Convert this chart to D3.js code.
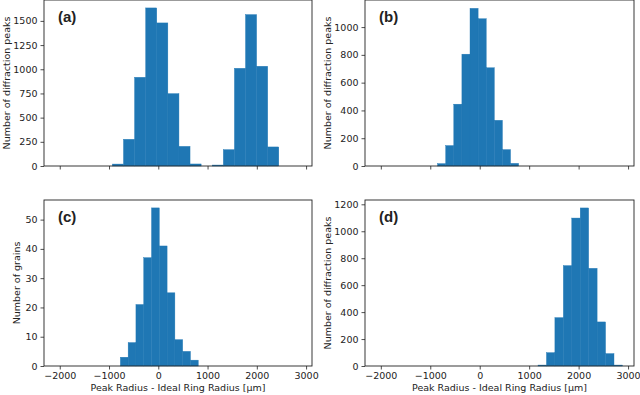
<!DOCTYPE html>
<html>
<head>
<meta charset="utf-8">
<script src="https://cdn.jsdelivr.net/npm/d3@7"></script>
<style>
    body { margin: 0; background: #fff; }
    text { font-family: "DejaVu Sans", sans-serif; fill: #222; }
</style>
</head>
<body>
<svg id="chart" width="640" height="395"></svg>
<script>
// histogram counts; bins are equal width from binStart
const countsA = [20, 276, 917, 1634, 1479, 748, 203, 21, 0, 10, 169, 1010, 1565, 1031, 197];
const countsB = [17, 147, 445, 805, 1135, 1060, 707, 329, 118, 19];
const countsC = [3, 8, 21, 37, 54, 41, 25, 9, 5, 2];
const countsD = [7, 99, 359, 745, 1098, 1173, 725, 327, 92, 7];

const binStart = { a: -932, b: -852, c: -770, d: 1179 };
const binWidth = { a: 225.2, b: 163.9, c: 158.1, d: 170.7 };

const xTicks = [-2000, -1000, 0, 1000, 2000, 3000];
const yTicksA = [0, 250, 500, 750, 1000, 1250, 1500];
const yTicksB = [0, 200, 400, 600, 800, 1000];
const yTicksC = [0, 10, 20, 30, 40, 50];
const yTicksD = [0, 200, 400, 600, 800, 1000, 1200];

const panelLabels = ["(a)", "(b)", "(c)", "(d)"];
const yTitles = ["Number of diffraction peaks", "Number of diffraction peaks",
                 "Number of grains", "Number of diffraction peaks"];
const xTitle = "Peak Radius - Ideal Ring Radius [\u03bcm]";

const xDomain = [-2320, 3120];
const barColor = "#1f77b4";

const svg = d3.select("#chart");

const panels = [
    { key: "a", counts: countsA, yTicks: yTicksA, ymax: 1716, box: [44, 0, 312, 166], titleX: 6, showX: false },
    { key: "b", counts: countsB, yTicks: yTicksB, ymax: 1195, box: [365, 0, 634, 166], titleX: 327, showX: false },
    { key: "c", counts: countsC, yTicks: yTicksC, ymax: 56.7, box: [44, 200, 312, 366], titleX: 16, showX: true },
    { key: "d", counts: countsD, yTicks: yTicksD, ymax: 1232, box: [365, 200, 634, 366], titleX: 327, showX: true },
];

const fmtX = d => d < 0 ? "\u2212" + Math.abs(d) : String(d);

panels.forEach(function (p, i) {
    const [x0, y0, x1, y1] = p.box;
    const X = d3.scaleLinear().domain(xDomain).range([x0, x1]);
    const Y = d3.scaleLinear().domain([0, p.ymax]).range([y1, y0]);
    const g = svg.append("g");

    const bins = p.counts.map(function (c, j) {
        const lo = binStart[p.key] + j * binWidth[p.key];
        return { lo: lo, hi: lo + binWidth[p.key], n: c };
    });

    g.selectAll("rect.bar")
        .data(bins.filter(d => d.n > 0))
        .enter()
        .append("rect")
        .attr("class", "bar")
        .attr("x", d => X(d.lo))
        .attr("width", d => X(d.hi) - X(d.lo))
        .attr("y", d => Y(d.n))
        .attr("height", d => Y(0) - Y(d.n))
        .attr("fill", barColor)
        .attr("stroke", barColor)
        .attr("stroke-width", 0.4);

    // frame
    g.append("rect")
        .attr("x", x0).attr("y", y0)
        .attr("width", x1 - x0).attr("height", y1 - y0)
        .attr("fill", "none")
        .attr("stroke", "#222")
        .attr("stroke-width", 0.9);

    const xAxis = d3.axisBottom(X).tickValues(xTicks).tickSize(3.5).tickPadding(3)
        .tickFormat(p.showX ? fmtX : "");
    const gx = g.append("g").attr("transform", `translate(0,${y1})`).call(xAxis);
    gx.select(".domain").remove();

    const yAxis = d3.axisLeft(Y).tickValues(p.yTicks).tickSize(3.5).tickPadding(3)
        .tickFormat(d3.format("d"));
    const gy = g.append("g").attr("transform", `translate(${x0},0)`).call(yAxis);
    gy.select(".domain").remove();

    g.selectAll(".tick line").attr("stroke", "#222").attr("stroke-width", 0.8);
    g.selectAll(".tick text")
        .style("font-family", "DejaVu Sans")
        .style("font-size", "9.5px")
        .attr("fill", "#222");

    g.append("text")
        .attr("x", x0 + 14).attr("y", y0 + 22)
        .style("font-family", "Liberation Sans, Arial, sans-serif")
        .style("font-weight", "bold")
        .style("font-size", "15px")
        .attr("fill", "#111")
        .text(panelLabels[i]);

    g.append("text")
        .attr("transform", `translate(${p.titleX},${(y0 + y1) / 2}) rotate(-90)`)
        .attr("text-anchor", "middle")
        .attr("dominant-baseline", "central")
        .style("font-size", "9.5px")
        .text(yTitles[i]);

    if (p.showX) {
        g.append("text")
            .attr("x", (x0 + x1) / 2).attr("y", 391)
            .attr("text-anchor", "middle")
            .style("font-size", "9.5px")
            .text(xTitle);
    }
});
</script>
</body>
</html>
